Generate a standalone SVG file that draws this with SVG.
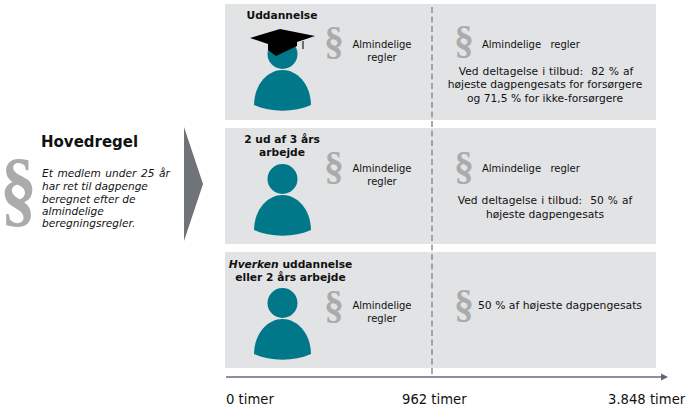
<svg xmlns="http://www.w3.org/2000/svg" width="688" height="410" viewBox="0 0 688 410">
<style>
text{font-family:"DejaVu Sans",Verdana,sans-serif;fill:#111;white-space:pre}
.panel{fill:#e2e3e5}
.sec{font-family:"Liberation Serif",serif;font-weight:bold;fill:#a9abac;font-size:40px}
.s{font-size:10px}
.m{font-size:10.7px}
.c{text-anchor:middle}
.b{font-size:10.7px;font-weight:bold}
.i{font-size:10.6px;font-style:italic}
.t{font-size:13.2px}
</style>
<defs>
<g id="person"><circle cx="0" cy="-57" r="15"/><path d="M-28.500 -6C-28 -28 -14 -41 0 -41C14 -41 28 -28 28.500 -6C12 1.500 -12 1.500 -28.500 -6Z"/></g>
</defs>
<rect width="688" height="410" fill="#fff"/>
<g id="panels">
<rect class="panel" x="225" y="4" width="431" height="116"/>
<rect class="panel" x="225" y="128" width="431" height="116"/>
<rect class="panel" x="225" y="252" width="431" height="116"/>
</g>
<g id="connectors">
<line x1="432" y1="7" x2="432" y2="378" stroke="#8b8f96" stroke-width="1.5" stroke-dasharray="6 3.500"/>
<line x1="226" y1="377" x2="662" y2="377" stroke="#8b919c" stroke-width="2"/>
<path d="M661 373.500L668 377L661 380.500Z" fill="#5f6778"/>
</g>
<g id="hovedregel">
<text class="sec" x="0" y="216" transform="scale(.87 1)" style="font-size:85px">§</text>
<text x="41" y="147" style="font-size:15px;font-weight:bold">Hovedregel</text>
<text class="i" x="42" y="177" word-spacing="1.200">Et medlem under 25 år</text>
<text class="i" x="42" y="190">har ret til dagpenge</text>
<text class="i" x="42" y="203">beregnet efter de</text>
<text class="i" x="42" y="215">almindelige</text>
<text class="i" x="42" y="227">beregningsregler.</text>
</g>
<path id="chevron" d="M184 127L203 184L184 241Z" fill="#6f7276"/>
<g id="row1">
<text class="b c" x="282" y="19">Uddannelse</text>
<use href="#person" x="282.500" y="111" fill="#00788a"/>
<path d="M250 38L280 29L315 36L297 42L297 46L276 56L268 50L268 44Z" fill="#000"/>
<path d="M303 41L303 49" stroke="#444" stroke-width="1.500"/>
<text class="sec" x="324" y="54">§</text>
<text class="s c" x="382" y="48">Almindelige</text>
<text class="s c" x="382" y="61">regler</text>
<text class="sec" x="454" y="53">§</text>
<text class="s" x="482" y="48" word-spacing="1.500">Almindelige  regler</text>
<text class="m c" x="546" y="75" word-spacing=".6">Ved deltagelse i tilbud:  82 % af</text>
<text class="m c" x="545" y="88">højeste dagpengesats for forsørgere</text>
<text class="m c" x="545" y="102">og 71,5 % for ikke-forsørgere</text>
</g>
<g id="row2">
<text class="b c" x="282" y="143">2 ud af 3 års</text>
<text class="b c" x="282" y="156">arbejde</text>
<use href="#person" x="282.500" y="236" fill="#00788a"/>
<text class="sec" x="324" y="179">§</text>
<text class="s c" x="382" y="172">Almindelige</text>
<text class="s c" x="382" y="185">regler</text>
<text class="sec" x="454" y="179">§</text>
<text class="s" x="482" y="172" word-spacing="1.500">Almindelige  regler</text>
<text class="m c" x="545" y="204" word-spacing=".6">Ved deltagelse i tilbud:  50 % af</text>
<text class="m c" x="545" y="218">højeste dagpengesats</text>
</g>
<g id="row3">
<text class="b c" x="290.500" y="268"><tspan font-style="italic">Hverken</tspan> uddannelse</text>
<text class="b c" x="290.500" y="281">eller 2 års arbejde</text>
<use href="#person" x="282.500" y="360" fill="#00788a"/>
<text class="sec" x="324" y="318">§</text>
<text class="s c" x="382" y="309">Almindelige</text>
<text class="s c" x="382" y="322">regler</text>
<text class="sec" x="454" y="317">§</text>
<text class="m" x="478" y="309" style="font-size:10.800px">50 % af højeste dagpengesats</text>
</g>
<g id="axis-labels">
<text class="t" x="226" y="404">0 timer</text>
<text class="t" x="402" y="404">962 timer</text>
<text class="t" x="608" y="404">3.848 timer</text>
</g>
</svg>
